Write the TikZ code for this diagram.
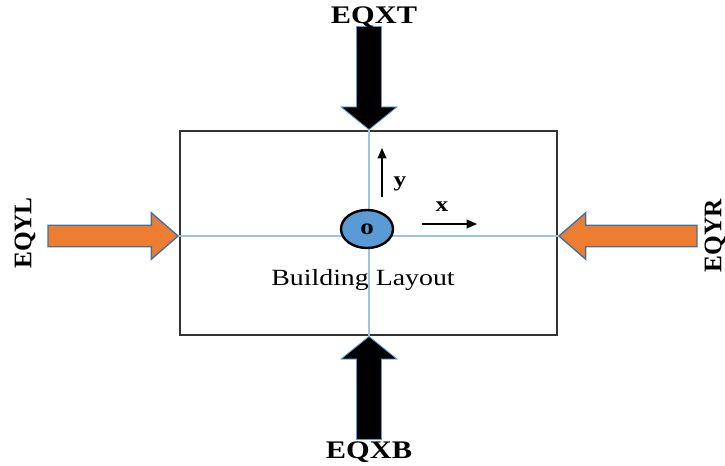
\documentclass[tikz,border=0pt]{standalone}
\usepackage{fontspec}
\setmainfont{Liberation Serif}
\usepackage{tikz}
\usetikzlibrary{arrows.meta,shapes.geometric,shapes.arrows}
\definecolor{eqorange}{HTML}{ED7D31}
\definecolor{eqedge}{HTML}{41719C}
\definecolor{axisblue}{HTML}{9DC3E6}
\definecolor{originblue}{HTML}{5B9BD5}
\newcommand{\wide}[1]{\scalebox{1.2}[1]{#1}}

\begin{document}
\begin{tikzpicture}[
  x=0.025cm,y=-0.025cm,
  vload/.style={single arrow,draw=originblue,line width=0.6pt,fill=black,inner xsep=0.3cm,inner ysep=0pt,
    single arrow head extend=0.3875cm,single arrow tip angle=102,minimum height=2.575cm,anchor=tip},
  hload/.style={single arrow,draw=eqedge,line width=1pt,fill=eqorange,inner xsep=0pt,inner ysep=0.25cm,
    single arrow head extend=0.3125cm,single arrow tip angle=82,anchor=tip},
  lbl/.style={font=\fontsize{18}{20}\selectfont\bfseries,inner sep=0pt},
  axisline/.style={draw=axisblue,line width=1.2pt},
  dir/.style={-{Triangle[length=2.6mm,width=2.2mm]},line width=0.9pt}
]
\useasboundingbox (0,0) rectangle (725,466);
\node[draw=black!80,line width=1.2pt,minimum width=9.425cm,minimum height=5.1cm] (layout) at (368.5,233) {};
\coordinate (o) at (369,236);
\draw[axisline] (o |- layout.north) -- (o |- layout.south);
\draw[axisline] (o -| layout.west) -- (o -| layout.east);
% loads
\node[vload,shape border rotate=270] (top) at (o |- layout.north) {};
\node[vload,shape border rotate=90] (bottom) at (o |- layout.south) {};
\node[hload,minimum height=3.25cm] (left) at (o -| layout.west) {};
\node[hload,minimum height=3.45cm,shape border rotate=180] (right) at (o -| layout.east) {};
\node[lbl] (eqxt) at (374,17) {\wide{EQXT}};
\node[lbl] (eqxb) at (369,452) {\wide{EQXB}};
\node[lbl,rotate=90] (eqyl) at (25,233) {EQYL};
\node[lbl,rotate=90] (eqyr) at (715,236) {EQYR};
% origin and axes
\node[ellipse,draw,line width=1.7pt,fill=originblue,minimum width=1.3cm,minimum height=0.95cm,
  inner sep=0pt,font=\fontsize{16}{18}\selectfont\bfseries] (origin) at (367,229) {\wide{o}};
\coordinate (ytail) at (382,197);
\coordinate (yhead) at (382,148);
\coordinate (xtail) at (422,224);
\coordinate (xhead) at (477,224);
\draw[dir] (ytail) -- (yhead);
\draw[dir] (xtail) -- (xhead);
\node[font=\fontsize{15}{17}\selectfont\bfseries] (ylbl) at (400,184) {\wide{y}};
\node[font=\fontsize{15}{17}\selectfont\bfseries] (xlbl) at (442,207) {\wide{x}};
\node[font=\fontsize{16.5}{18}\selectfont] (caption) at (363,280) {\wide{Building Layout}};
\end{tikzpicture}
\end{document}
